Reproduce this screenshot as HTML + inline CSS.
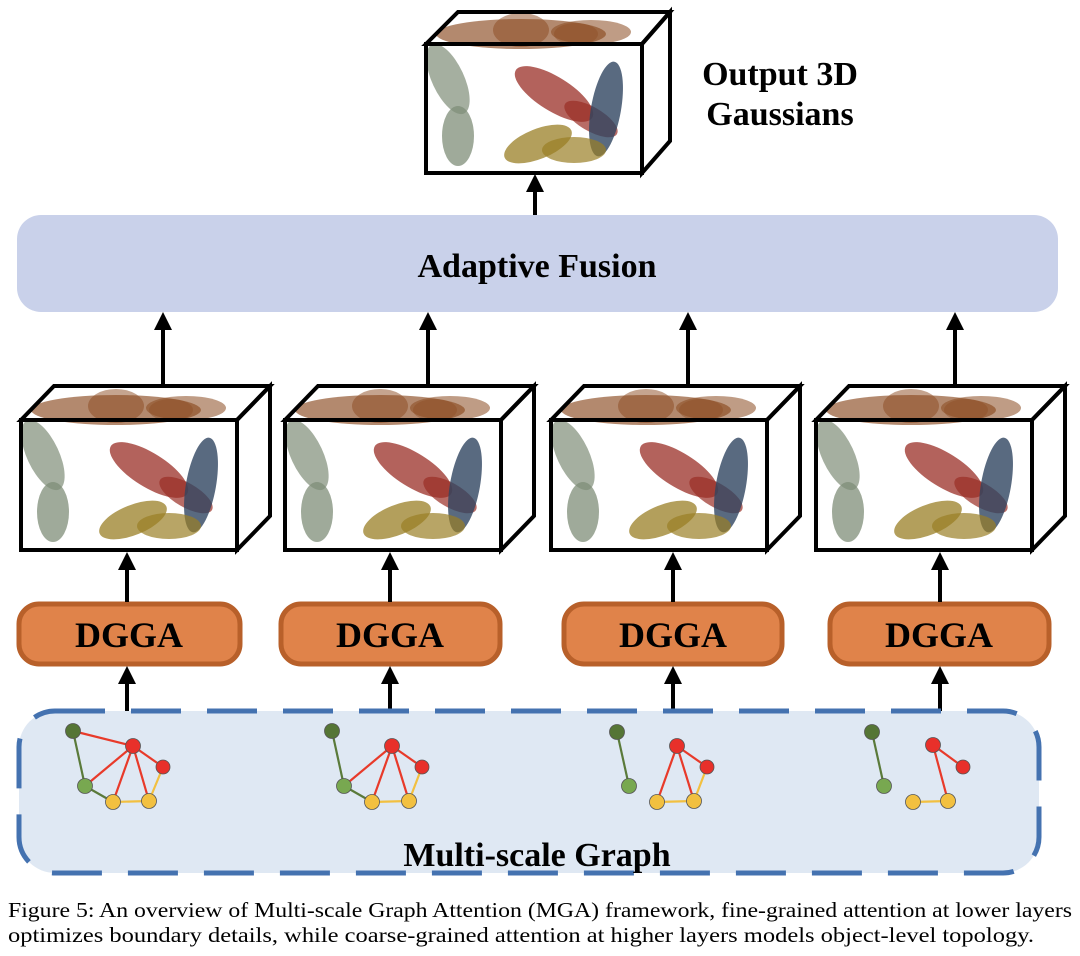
<!DOCTYPE html>
<html><head><meta charset="utf-8"><style>
html,body{margin:0;padding:0;background:#fff;width:1080px;height:956px;overflow:hidden}
svg{display:block}
.t{font-family:"Liberation Serif",serif;font-weight:bold;fill:#000}
</style></head><body>
<svg width="1080" height="956" viewBox="0 0 1080 956" xmlns="http://www.w3.org/2000/svg">
<defs>
<g id="ell">
  <ellipse cx="95" cy="-10" rx="85" ry="15" fill="#8b4a20" opacity="0.65"/>
  <ellipse cx="95" cy="-14" rx="28" ry="17" fill="#8b4a20" opacity="0.5"/>
  <ellipse cx="165" cy="-12" rx="40" ry="12" fill="#8b4a20" opacity="0.55"/>
  <ellipse cx="150" cy="-10" rx="22" ry="11" fill="#8b4a20" opacity="0.4"/>
  <ellipse cx="22" cy="35" rx="16" ry="38" fill="#7f8d78" opacity="0.7" transform="rotate(-25 22 35)"/>
  <ellipse cx="32" cy="92" rx="16" ry="30" fill="#7f8d78" opacity="0.75"/>
  <ellipse cx="128" cy="50" rx="45" ry="17" fill="#9a2e25" opacity="0.75" transform="rotate(32 128 50)"/>
  <ellipse cx="165" cy="75" rx="30" ry="12" fill="#9a2e25" opacity="0.7" transform="rotate(30 165 75)"/>
  <ellipse cx="180" cy="65" rx="15" ry="48" fill="#2f4560" opacity="0.8" transform="rotate(10 180 65)"/>
  <ellipse cx="112" cy="100" rx="36" ry="15" fill="#9a7f25" opacity="0.75" transform="rotate(-22 112 100)"/>
  <ellipse cx="148" cy="106" rx="32" ry="13" fill="#9a7f25" opacity="0.7"/>
</g>
</defs>

<!-- top cube -->
<g transform="translate(426,44)">
  <use href="#ell"/>
  <g fill="none" stroke="#000" stroke-width="4" stroke-linejoin="miter">
    <polygon points="0,0 32,-32 244,-32 216,0"/>
    <polygon points="216,0 244,-32 244,97 216,129"/>
    <rect x="0" y="0" width="216" height="129"/>
  </g>
</g>
<text class="t" x="780" y="85" font-size="34" text-anchor="middle">Output 3D</text>
<text class="t" x="780" y="125" font-size="34" text-anchor="middle">Gaussians</text>

<line x1="535" y1="215" x2="535" y2="190" stroke="#000" stroke-width="4"/>
<polygon points="526,192 544,192 535,174" fill="#000"/>

<rect x="17" y="215" width="1041" height="97" rx="24" fill="#c9d1ea"/>
<text class="t" x="537" y="277" font-size="34" text-anchor="middle">Adaptive Fusion</text>

<g transform="translate(21,420)">
  <use href="#ell"/>
  <g fill="none" stroke="#000" stroke-width="4"><polygon points="0,0 33,-34 249,-34 216,0"/><polygon points="216,0 249,-34 249,96 216,130"/><rect x="0" y="0" width="216" height="130"/></g>
</g>
<g transform="translate(285,420)">
  <use href="#ell"/>
  <g fill="none" stroke="#000" stroke-width="4"><polygon points="0,0 33,-34 249,-34 216,0"/><polygon points="216,0 249,-34 249,96 216,130"/><rect x="0" y="0" width="216" height="130"/></g>
</g>
<g transform="translate(551,420)">
  <use href="#ell"/>
  <g fill="none" stroke="#000" stroke-width="4"><polygon points="0,0 33,-34 249,-34 216,0"/><polygon points="216,0 249,-34 249,96 216,130"/><rect x="0" y="0" width="216" height="130"/></g>
</g>
<g transform="translate(816,420)">
  <use href="#ell"/>
  <g fill="none" stroke="#000" stroke-width="4"><polygon points="0,0 33,-34 249,-34 216,0"/><polygon points="216,0 249,-34 249,96 216,130"/><rect x="0" y="0" width="216" height="130"/></g>
</g>

<g stroke="#000" stroke-width="4">
<line x1="163" y1="386" x2="163" y2="328"/><line x1="428" y1="386" x2="428" y2="328"/>
<line x1="688" y1="386" x2="688" y2="328"/><line x1="955" y1="386" x2="955" y2="328"/>
</g>
<g fill="#000">
<polygon points="154,330 172,330 163,312"/><polygon points="419,330 437,330 428,312"/>
<polygon points="679,330 697,330 688,312"/><polygon points="946,330 964,330 955,312"/>
</g>

<g fill="#e0834a" stroke="#b8602a" stroke-width="5">
<rect x="19" y="604" width="221" height="60" rx="20"/>
<rect x="281" y="604" width="219" height="60" rx="20"/>
<rect x="564" y="604" width="218" height="60" rx="20"/>
<rect x="830" y="604" width="219" height="60" rx="20"/>
</g>
<g class="t" font-size="36" text-anchor="middle">
<text x="129" y="647">DGGA</text><text x="390" y="647">DGGA</text>
<text x="673" y="647">DGGA</text><text x="939" y="647">DGGA</text>
</g>

<g stroke="#000" stroke-width="4">
<line x1="127" y1="602" x2="127" y2="568"/><line x1="390" y1="602" x2="390" y2="568"/>
<line x1="673" y1="602" x2="673" y2="568"/><line x1="940" y1="602" x2="940" y2="568"/>
<line x1="127" y1="712" x2="127" y2="682"/><line x1="390" y1="712" x2="390" y2="682"/>
<line x1="673" y1="712" x2="673" y2="682"/><line x1="940" y1="712" x2="940" y2="682"/>
</g>
<g fill="#000">
<polygon points="118,570 136,570 127,552"/><polygon points="381,570 399,570 390,552"/>
<polygon points="664,570 682,570 673,552"/><polygon points="931,570 949,570 940,552"/>
<polygon points="118,684 136,684 127,666"/><polygon points="381,684 399,684 390,666"/>
<polygon points="664,684 682,684 673,666"/><polygon points="931,684 949,684 940,666"/>
</g>

<rect x="19" y="711" width="1020" height="162" rx="36" fill="#dfe8f3" stroke="#4472b0" stroke-width="5" stroke-dasharray="50 26"/>
<text class="t" x="537" y="866" font-size="34" text-anchor="middle">Multi-scale Graph</text>

<g stroke-width="2.2">
<line x1="73" y1="731" x2="133" y2="746" stroke="#e83a2a"/>
<line x1="73" y1="731" x2="85" y2="786" stroke="#5a7a3a"/>
<line x1="133" y1="746" x2="85" y2="786" stroke="#e83a2a"/>
<line x1="133" y1="746" x2="113" y2="802" stroke="#e83a2a"/>
<line x1="133" y1="746" x2="149" y2="801" stroke="#e83a2a"/>
<line x1="133" y1="746" x2="163" y2="767" stroke="#e83a2a"/>
<line x1="163" y1="767" x2="149" y2="801" stroke="#f2c040"/>
<line x1="113" y1="802" x2="149" y2="801" stroke="#f2c040"/>
<line x1="85" y1="786" x2="113" y2="802" stroke="#5a7a3a"/>
</g>
<g stroke-width="2.2">
<line x1="332" y1="731" x2="344" y2="786" stroke="#5a7a3a"/>
<line x1="392" y1="746" x2="344" y2="786" stroke="#e83a2a"/>
<line x1="392" y1="746" x2="372" y2="802" stroke="#e83a2a"/>
<line x1="392" y1="746" x2="409" y2="801" stroke="#e83a2a"/>
<line x1="392" y1="746" x2="422" y2="767" stroke="#e83a2a"/>
<line x1="422" y1="767" x2="409" y2="801" stroke="#f2c040"/>
<line x1="372" y1="802" x2="409" y2="801" stroke="#f2c040"/>
<line x1="344" y1="786" x2="372" y2="802" stroke="#5a7a3a"/>
</g>
<g stroke-width="2.2">
<line x1="617" y1="732" x2="629" y2="786" stroke="#5a7a3a"/>
<line x1="677" y1="746" x2="657" y2="802" stroke="#e83a2a"/>
<line x1="677" y1="746" x2="694" y2="801" stroke="#e83a2a"/>
<line x1="677" y1="746" x2="707" y2="767" stroke="#e83a2a"/>
<line x1="707" y1="767" x2="694" y2="801" stroke="#f2c040"/>
<line x1="657" y1="802" x2="694" y2="801" stroke="#f2c040"/>
</g>
<g stroke-width="2.2">
<line x1="872" y1="732" x2="884" y2="786" stroke="#5a7a3a"/>
<line x1="933" y1="745" x2="963" y2="767" stroke="#e83a2a"/>
<line x1="933" y1="745" x2="948" y2="801" stroke="#e83a2a"/>
<line x1="913" y1="802" x2="948" y2="801" stroke="#f2c040"/>
</g>
<g stroke="#555" stroke-width="0.8">
<circle cx="73" cy="731" r="7.5" fill="#557535"/><circle cx="133" cy="746" r="7.5" fill="#e8302a"/><circle cx="163" cy="767" r="7" fill="#e8302a"/><circle cx="85" cy="786" r="7.5" fill="#78a850"/><circle cx="113" cy="802" r="7.5" fill="#f2c040"/><circle cx="149" cy="801" r="7.5" fill="#f2c040"/>
<circle cx="332" cy="731" r="7.5" fill="#557535"/><circle cx="392" cy="746" r="7.5" fill="#e8302a"/><circle cx="422" cy="767" r="7" fill="#e8302a"/><circle cx="344" cy="786" r="7.5" fill="#78a850"/><circle cx="372" cy="802" r="7.5" fill="#f2c040"/><circle cx="409" cy="801" r="7.5" fill="#f2c040"/>
<circle cx="617" cy="732" r="7.5" fill="#557535"/><circle cx="677" cy="746" r="7.5" fill="#e8302a"/><circle cx="707" cy="767" r="7" fill="#e8302a"/><circle cx="629" cy="786" r="7.5" fill="#78a850"/><circle cx="657" cy="802" r="7.5" fill="#f2c040"/><circle cx="694" cy="801" r="7.5" fill="#f2c040"/>
<circle cx="872" cy="732" r="7.5" fill="#557535"/><circle cx="933" cy="745" r="7.5" fill="#e8302a"/><circle cx="963" cy="767" r="7" fill="#e8302a"/><circle cx="884" cy="786" r="7.5" fill="#78a850"/><circle cx="913" cy="802" r="7.5" fill="#f2c040"/><circle cx="948" cy="801" r="7.5" fill="#f2c040"/>
</g>

<text x="8" y="917" font-family="Liberation Serif, serif" font-size="21" textLength="1064" lengthAdjust="spacingAndGlyphs">Figure 5:  An overview of Multi-scale Graph Attention (MGA) framework, fine-grained attention at lower layers</text>
<text x="8" y="942" font-family="Liberation Serif, serif" font-size="21" textLength="1026" lengthAdjust="spacingAndGlyphs">optimizes boundary details, while coarse-grained attention at higher layers models object-level topology.</text>
</svg>
</body></html>
